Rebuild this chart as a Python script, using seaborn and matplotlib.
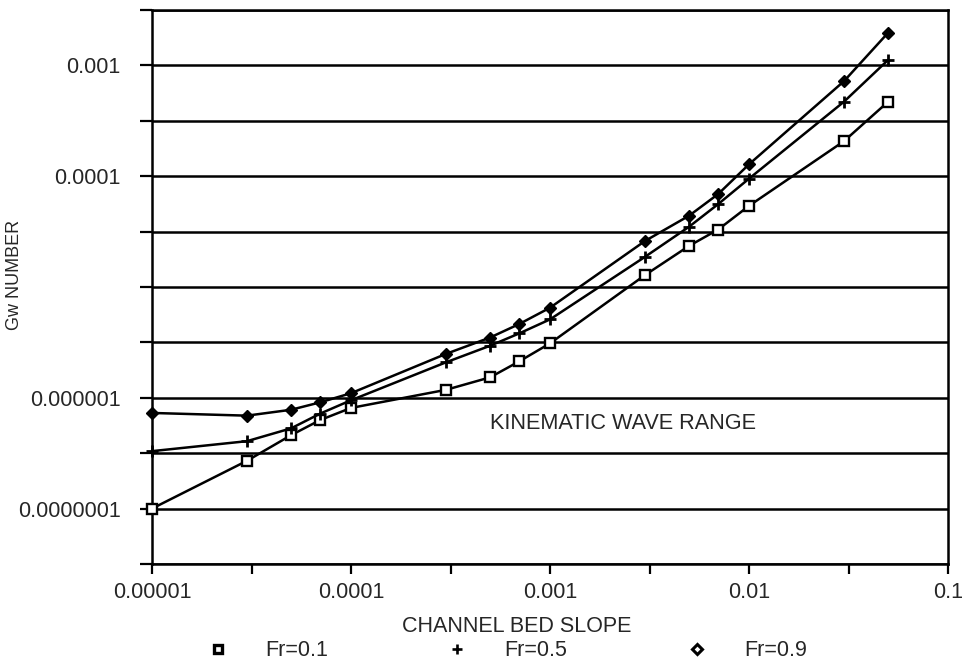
import numpy as np
import pandas as pd
import matplotlib
matplotlib.use("Agg")
import matplotlib.pyplot as plt
from matplotlib.ticker import FixedLocator, NullLocator, FixedFormatter
from matplotlib.lines import Line2D
import seaborn as sns

# ---- data ----
slope = [1e-5, 3e-5, 5e-5, 7e-5, 1e-4, 3e-4, 5e-4, 7e-4, 1e-3, 3e-3, 5e-3, 7e-3, 1e-2, 3e-2, 5e-2]
gw_fr01 = [1.0e-7, 2.7e-7, 4.6e-7, 6.3e-7, 8.1e-7, 1.18e-6, 1.53e-6, 2.13e-6, 3.1e-6,
           1.28e-5, 2.35e-5, 3.3e-5, 5.4e-5, 2.07e-4, 4.7e-4]
gw_fr05 = [3.3e-7, 4.06e-7, 5.3e-7, 7.2e-7, 9.5e-7, 2.09e-6, 2.95e-6, 3.81e-6, 5.1e-6,
           1.87e-5, 3.5e-5, 5.6e-5, 9.5e-5, 4.7e-4, 1.12e-3]
gw_fr09 = [7.3e-7, 6.9e-7, 7.8e-7, 9.1e-7, 1.1e-6, 2.49e-6, 3.5e-6, 4.63e-6, 6.5e-6,
           2.6e-5, 4.4e-5, 6.9e-5, 1.28e-4, 7.2e-4, 1.97e-3]
series_names = ["Fr=0.1", "Fr=0.5", "Fr=0.9"]

x_ticks = [1e-5, 1e-4, 1e-3, 1e-2, 1e-1]
x_tick_labels = ["0.00001", "0.0001", "0.001", "0.01", "0.1"]
x_minor = [10**-4.5, 10**-3.5, 10**-2.5, 10**-1.5]
y_ticks = [10**(k / 2) for k in range(-15, -4)]
y_tick_labels = ["", "0.0000001", "", "0.000001", "", "", "", "0.0001", "", "0.001", ""]

sns.set_style("white")
plt.rcParams["font.family"] = ["Liberation Sans", "DejaVu Sans"]

fig = plt.figure(figsize=(9.65, 6.65), dpi=100)
ax = fig.add_axes([152 / 965, 1 - 564 / 665, 796 / 965, 554 / 665])

styles = [
    dict(marker="s", markersize=7, markerfacecolor="white", markeredgecolor="black", markeredgewidth=1.7),
    dict(marker="+", markersize=9, markeredgecolor="black", markeredgewidth=2.0),
    dict(marker="D", markersize=6.5, markerfacecolor="black", markeredgecolor="black", markeredgewidth=1.0),
]
for name, ys, st in zip(series_names, [gw_fr01, gw_fr05, gw_fr09], styles):
    df = pd.DataFrame({"slope": slope, "gw": ys})
    sns.lineplot(data=df, x="slope", y="gw", ax=ax, color="black", linewidth=1.8,
                 clip_on=False, zorder=4, **st)

ax.set_xscale("log")
ax.set_yscale("log")
ax.set_xlim(1e-5, 1e-1)
ax.set_ylim(10**-7.5, 10**-2.5)

ax.xaxis.set_major_locator(FixedLocator(x_ticks))
ax.xaxis.set_major_formatter(FixedFormatter(x_tick_labels))
ax.xaxis.set_minor_locator(FixedLocator(x_minor))
ax.yaxis.set_major_locator(FixedLocator(y_ticks))
ax.yaxis.set_major_formatter(FixedFormatter(y_tick_labels))
ax.yaxis.set_minor_locator(NullLocator())

ax.tick_params(axis="x", which="both", direction="out", length=7, width=1.6,
               color="black", labelsize=15.5, pad=6, bottom=True)
ax.tick_params(axis="y", which="major", direction="out", length=8.5, width=1.6,
               color="black", labelsize=15.5, pad=14, left=True)

ax.yaxis.grid(True, which="major", color="black", linewidth=1.8)
ax.xaxis.grid(False)
for s in ax.spines.values():
    s.set_color("black")
    s.set_linewidth(1.8)

ax.set_xlabel("CHANNEL BED SLOPE", fontsize=15.5)
ax.xaxis.set_label_coords((517 - 152) / 796, -(627 - 564) / 554)
ax.xaxis.label.set_va("center")
ax.set_ylabel("Gw NUMBER", fontsize=13)
ax.yaxis.set_label_coords((15 - 152) / 796, (564 - 275) / 554)
ax.yaxis.label.set_va("center")

ax.text(5.0e-4, 5.9e-7, "KINEMATIC WAVE RANGE", fontsize=15.6, va="center", ha="left")

handles = [
    Line2D([], [], linestyle="none", marker="s", markersize=6, markerfacecolor="white",
           markeredgecolor="black", markeredgewidth=2.4),
    Line2D([], [], linestyle="none", marker="+", markersize=7, markeredgecolor="black",
           markeredgewidth=1.9),
    Line2D([], [], linestyle="none", marker="D", markersize=5, markerfacecolor="white",
           markeredgecolor="black", markeredgewidth=2.2),
]
fig.legend(handles, series_names, loc="center", bbox_to_anchor=(507 / 965, 1 - 651 / 665),
           ncol=3, frameon=False, fontsize=15.5, handlelength=1.0, handletextpad=1.7,
           columnspacing=5.5, borderpad=0, borderaxespad=0)

fig.savefig("out.png", dpi=100)
